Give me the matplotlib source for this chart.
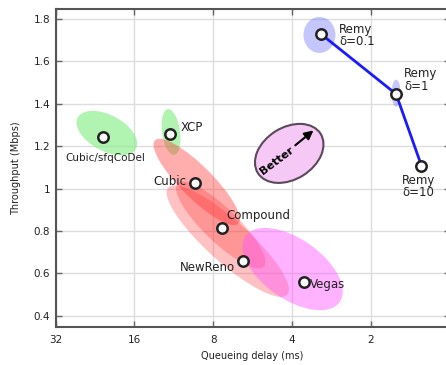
import matplotlib
matplotlib.use("Agg")
import matplotlib.pyplot as plt
from matplotlib.patches import Ellipse
import matplotlib.transforms as mtransforms

# ---- data ----
schemes = ["Remy\nδ=0.1", "Remy\nδ=1", "Remy\nδ=10", "Cubic/sfqCoDel", "XCP",
           "Cubic", "Compound", "NewReno", "Vegas"]
delay_ms = [3.09, 1.60, 1.28, 21.1, 11.7, 9.41, 7.38, 6.16, 3.59]
throughput = [1.728, 1.446, 1.108, 1.245, 1.257, 1.027, 0.812, 0.658, 0.557]

remy_delay = delay_ms[:3]
remy_tput = throughput[:3]

# spread ellipses (centre delay, centre throughput)
ell_delay = [20.4, 11.6, 9.25, 7.49, 7.04, 3.98, 3.14, 1.60]
ell_tput = [1.262, 1.267, 1.031, 0.828, 0.752, 0.620, 1.725, 1.45]

xticks = [32, 16, 8, 4, 2]
xticklabels = ["32", "16", "8", "4", "2"]
yticks = [0.4, 0.6, 0.8, 1.0, 1.2, 1.4, 1.6, 1.8]
yticklabels = ["0.4", "0.6", "0.8", "1", "1.2", "1.4", "1.6", "1.8"]

# ---- styles ----
# (width px, height px, angle deg, color, alpha)
ell_style = [
    (66, 36, -28, "#90ee90", 0.7),
    (18, 46, 8, "#90ee90", 0.7),
    (118, 32, -45, "#ff3333", 0.4),
    (120, 34, -44, "#ff3333", 0.3),
    (160, 42, -42, "#ff3333", 0.3),
    (115, 60, -35, "#ff55ff", 0.45),
    (32, 36, 0, "#7777ff", 0.42),
    (9, 27, 0, "#7777ff", 0.42),
]
# label offsets in pixels and alignment
label_style = [
    ((18, -1), "left", "center", 8.5),
    ((8, 14), "left", "center", 8.5),
    ((-3, -21), "center", "center", 8.5),
    ((2, -21), "center", "center", 7.5),
    ((11, 7), "left", "center", 8.5),
    ((-8, 1), "right", "center", 8.5),
    ((4, 13), "left", "center", 8.5),
    ((-8, -6), "right", "center", 8.5),
    ((6, -2), "left", "center", 8.5),
]

fig = plt.figure(figsize=(4.46, 3.65), dpi=100)
ax = fig.add_axes([55.7 / 446, 38.3 / 365, 393.8 / 446, 317.4 / 365])
ax.set_xscale("log", base=2)
ax.set_xlim(32, 1)
ax.set_ylim(0.348, 1.846)
ax.set_autoscale_on(False)

ax.set_xticks(xticks)
ax.set_xticklabels(xticklabels)
ax.xaxis.set_minor_locator(matplotlib.ticker.NullLocator())
ax.set_yticks(yticks)
ax.set_yticklabels(yticklabels)

ax.grid(True, color="#dddddd", lw=1)
ax.set_axisbelow(True)
for s in ax.spines.values():
    s.set_color("#555555")
    s.set_linewidth(1.5)
ax.tick_params(direction="in", length=4, width=1, color="#666666",
               top=True, right=True, labelsize=7.5, labelcolor="#222222")
ax.tick_params(axis="x", pad=6)
ax.tick_params(axis="y", pad=4)
ax.set_xlabel("Queueing delay (ms)", fontsize=7, color="#222222", labelpad=4)
ax.set_ylabel("Throughput (Mbps)", fontsize=7, color="#222222", labelpad=9)

fig.canvas.draw()

def add_ell(x, y, w, h, ang, **kw):
    tr = fig.dpi_scale_trans + mtransforms.ScaledTranslation(x, y, ax.transData)
    e = Ellipse((0, 0), w / 100, h / 100, angle=ang, transform=tr, **kw)
    ax.add_patch(e)
    return e

for x, y, st in zip(ell_delay, ell_tput, ell_style):
    w, h, ang, col, al = st
    add_ell(x, y, w, h, ang, facecolor=col, alpha=al, edgecolor="none", zorder=2)

# "Better" badge
tr_b = fig.dpi_scale_trans + mtransforms.ScaledTranslation(0.593, 0.546, ax.transAxes)
ax.add_patch(Ellipse((0, 0), 0.74, 0.52, angle=32, transform=tr_b,
                     facecolor="#f6c8f6", edgecolor="#5a4a5a", lw=1.5, zorder=3))
ax.text(0.563, 0.522, "Better", transform=ax.transAxes, rotation=37,
        ha="center", va="center", fontsize=8, fontweight="bold", zorder=4)
ax.annotate("", xy=(0.66, 0.624), xytext=(0.603, 0.566),
            xycoords="axes fraction", textcoords="axes fraction",
            arrowprops=dict(arrowstyle="-|>", color="black", lw=1.5,
                            mutation_scale=13), zorder=4)

ax.plot(remy_delay, remy_tput, color="#1a1aff", lw=2, zorder=4)
ax.plot(delay_ms, throughput, linestyle="none", marker="o", ms=7.5,
        mfc="white", mec="#222222", mew=1.8, zorder=5)

for name, x, y, st in zip(schemes, delay_ms, throughput, label_style):
    off, ha, va, fs = st
    ax.annotate(name, xy=(x, y), xytext=off, textcoords="offset pixels",
                ha=ha, va=va, fontsize=fs, color="#222222", zorder=6,
                linespacing=0.95)

fig.savefig("out.png", dpi=100)
